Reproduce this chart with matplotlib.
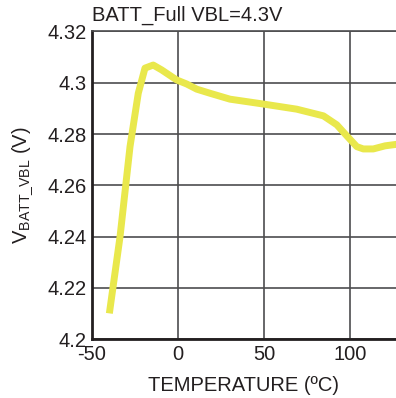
# Curva VBL vs temperatura

import numpy as np
import matplotlib.pyplot as plt

plt.rcParams['font.family'] = ['Liberation Sans', 'DejaVu Sans']
plt.rcParams['mathtext.fontset'] = 'custom'
plt.rcParams['mathtext.rm'] = 'Liberation Sans'
plt.rcParams['axes.unicode_minus'] = False

# %% Datos
temperatura = [-39.9, -33.7, -27.9, -23.1, -19.2, -14.4, -9.5, -0.8, 5.1, 10.9,
               18.6, 30.2, 49.6, 69.0, 84.5, 92.3, 98.1, 103.9, 107.7, 113.5,
               120.3, 127.0]
vbl = [4.2101, 4.2400, 4.2751, 4.2959, 4.3057, 4.3069, 4.3050, 4.3011, 4.2995, 4.2975,
       4.2959, 4.2936, 4.2917, 4.2897, 4.2871, 4.2836, 4.2793, 4.2751, 4.2742, 4.2742,
       4.2754, 4.2760]
xticks = [-50, 0, 50, 100]
yticks = [4.2, 4.22, 4.24, 4.26, 4.28, 4.3, 4.32]
yticklabels = ['4.2', '4.22', '4.24', '4.26', '4.28', '4.3', '4.32']

# %% Gráfico
fig = plt.figure(figsize=(3.96, 3.98), dpi=100)
ax = fig.add_axes([0.2323, 0.1475, 0.7677, 0.7735])

ax.plot(temperatura, vbl, color='#e9e84c', lw=5, solid_capstyle='butt',
        solid_joinstyle='round', zorder=3)

ax.set_xlim(-50, 126.7)
ax.set_ylim(4.2, 4.32)
ax.set_xticks(xticks)
ax.set_yticks(yticks)
ax.set_yticklabels(yticklabels)
ax.tick_params(length=0, labelsize=14.5, colors='#231f20', pad=4)
ax.grid(True, color='#4d4d4f', lw=1.2)

for s in ['left', 'bottom']:
    ax.spines[s].set_color('#231f20')
    ax.spines[s].set_linewidth(2)
ax.spines['top'].set_color('#4d4d4f')
ax.spines['top'].set_linewidth(1.2)
ax.spines['right'].set_visible(False)

ax.set_xlabel('TEMPERATURE (ºC)', fontsize=14.5, color='#231f20', labelpad=9)
ax.set_ylabel(r'V$_{\mathregular{BATT\_VBL}}$ (V)', fontsize=14.5, color='#231f20', labelpad=9)
ax.set_title('BATT_Full VBL=4.3V', fontsize=14.5, color='#231f20', loc='left', pad=8)

fig.savefig('out.png', dpi=100)
